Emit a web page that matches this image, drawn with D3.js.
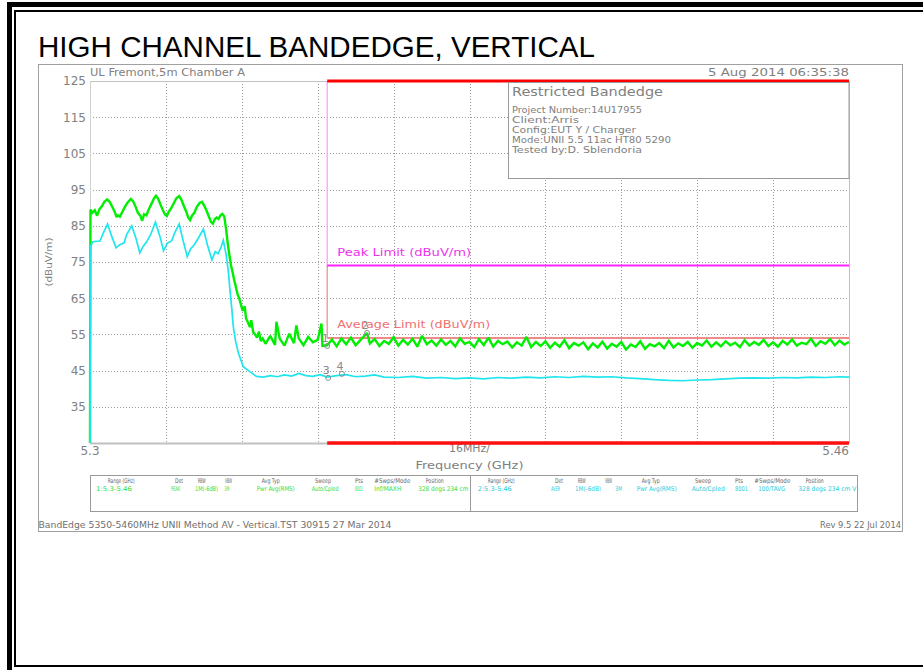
<!DOCTYPE html>
<html>
<head>
<meta charset="utf-8">
<script src="https://cdn.jsdelivr.net/npm/d3@7"></script>
<style>
html,body{margin:0;padding:0;background:#fff;}
svg{display:block;}
</style>
</head>
<body>
<svg id="c" width="923" height="670"></svg>
<script>
// ---------- DATA ----------
const freqDomain = [5.3, 5.46];
const levelDomain = [25, 125];
const yTickValues = [35, 45, 55, 65, 75, 85, 95, 105, 115, 125];
const xGridValues = [5.316, 5.332, 5.348, 5.364, 5.38, 5.396, 5.412, 5.428, 5.444];
const restrictedStart = 5.35;
const peakLimit = 74;
const avgLimit = 54;

// Peak trace (green) [GHz, dBuV/m]
const peakTrace = [
[5.3000,25],[5.3001,89.5],[5.3005,88.6],[5.3010,89.3],[5.3015,87.8],[5.3020,89.6],[5.3025,90.4],[5.3030,91.6],
[5.3036,92.3],[5.3042,91.5],[5.3047,90.2],[5.3052,88.9],[5.3056,87.4],[5.3059,87.9],[5.3063,87.5],[5.3068,88.8],
[5.3073,90.1],[5.3079,91.4],[5.3086,92.4],[5.3091,91.7],[5.3096,90.3],[5.3101,88.6],[5.3106,87.8],[5.3110,86.4],
[5.3114,88.2],[5.3119,87.9],[5.3124,89.6],[5.3130,91.2],[5.3135,92.6],[5.3139,93.3],[5.3144,92.4],[5.3149,90.7],
[5.3154,89.2],[5.3158,88.1],[5.3162,87.7],[5.3166,88.9],[5.3171,89.8],[5.3176,91.1],[5.3182,92.6],[5.3188,93.2],
[5.3193,92.1],[5.3198,90.4],[5.3203,88.9],[5.3207,87.3],[5.3211,86.6],[5.3215,87.8],[5.3220,88.6],[5.3225,90.2],
[5.3231,91.3],[5.3236,91.6],[5.3241,90.5],[5.3246,89.1],[5.3251,87.4],[5.3255,86.1],[5.3259,85.6],[5.3263,86.8],
[5.3267,87.3],[5.3271,86.9],[5.3275,87.9],[5.3279,88.3],
[5.3283,87.6],[5.3287,84.0],[5.3290,80.5],[5.3294,76.8],[5.3297,74.2],[5.3300,72.5],[5.3304,70.0],[5.3307,68.4],
[5.3311,66.1],[5.3315,64.8],[5.3318,63.3],[5.3322,61.5],[5.3326,62.8],[5.3329,59.4],[5.3333,58.3],[5.3337,57.0],
[5.3340,58.9],[5.3344,55.6],[5.3348,55.0],[5.3352,54.1],[5.3356,55.8],[5.3360,53.2],[5.3364,53.9],
[5.337,52.4],[5.338,54.6],[5.339,52.1],[5.3393,58.5],[5.340,53.8],[5.341,51.9],[5.342,55.2],[5.343,52.6],[5.3435,57.5],
[5.344,53.9],[5.345,52.0],[5.346,54.3],[5.347,52.8],[5.348,53.5],[5.3488,58.0],[5.349,51.8],[5.350,52.0],
[5.351,53.6],[5.352,51.7],[5.353,53.9],[5.354,52.3],[5.355,54.1],[5.356,52.0],[5.357,53.4],[5.3584,55.4],
[5.359,52.5],[5.360,53.7],[5.361,51.8],[5.362,53.2],[5.363,52.4],[5.364,54.2],[5.365,51.9],[5.366,53.5],
[5.367,52.2],[5.368,53.8],[5.369,51.6],[5.370,54.6],[5.371,52.3],[5.372,53.3],[5.373,51.9],[5.374,53.6],
[5.375,52.1],[5.376,53.2],[5.377,51.7],[5.378,53.9],[5.379,52.4],[5.380,52.9],[5.381,51.5],[5.382,53.7],
[5.383,52.0],[5.384,54.1],[5.385,51.6],[5.386,53.2],[5.387,52.3],[5.388,53.0],[5.389,51.4],[5.390,52.8],
[5.391,51.9],[5.392,54.3],[5.393,51.5],[5.394,52.9],[5.395,51.8],[5.396,53.1],[5.397,51.3],[5.398,52.7],
[5.399,51.6],[5.400,53.4],[5.401,51.2],[5.402,52.6],[5.403,51.9],[5.404,52.8],[5.405,50.9],[5.406,52.5],
[5.407,51.4],[5.408,53.0],[5.409,51.1],[5.410,52.4],[5.411,51.6],[5.412,52.9],[5.413,50.8],[5.414,52.2],
[5.415,51.5],[5.416,53.1],[5.417,51.0],[5.418,52.3],[5.419,51.7],[5.420,52.6],[5.421,51.2],[5.422,53.2],
[5.423,51.4],[5.424,52.5],[5.425,51.8],[5.426,52.9],[5.427,51.3],[5.428,52.6],[5.429,51.9],[5.430,53.3],
[5.431,51.6],[5.432,52.8],[5.433,51.7],[5.434,53.1],[5.435,52.0],[5.436,52.7],[5.437,51.5],[5.438,53.4],
[5.439,51.9],[5.440,52.9],[5.441,52.1],[5.442,53.5],[5.443,51.8],[5.444,52.8],[5.445,51.6],[5.446,53.2],
[5.447,52.2],[5.448,53.6],[5.449,51.9],[5.450,52.7],[5.451,52.3],[5.452,53.8],[5.453,51.8],[5.454,53.1],
[5.455,52.4],[5.456,53.7],[5.457,52.0],[5.458,53.3],[5.459,52.2],[5.460,52.9]
];

// Average trace (cyan) [GHz, dBuV/m]
const avgTrace = [
[5.3000,25],[5.3001,79.4],[5.3006,80.6],[5.3021,80.8],[5.3028,83.0],[5.3037,85.5],[5.3046,82.0],[5.3055,78.9],
[5.3063,79.8],[5.3072,80.3],[5.3077,82.5],[5.3088,85.0],[5.3097,81.5],[5.3105,77.5],[5.3112,79.3],[5.3119,80.5],
[5.3128,82.6],[5.3138,86.0],[5.3148,81.8],[5.3155,78.1],[5.3163,80.2],[5.3172,80.8],[5.3179,83.2],[5.3188,85.5],
[5.3197,80.5],[5.3205,76.5],[5.3212,78.6],[5.3219,79.6],[5.3228,81.5],[5.3239,84.1],[5.3248,79.5],[5.3257,75.6],
[5.3264,77.9],[5.3270,77.3],[5.3276,79.0],[5.3281,81.0],[5.3287,77.0],[5.3292,72.0],[5.3295,67.3],[5.3299,62.0],
[5.3302,57.2],[5.3307,53.0],[5.3313,49.8],[5.3323,46.1],[5.3337,44.7],[5.3351,43.4],[5.3365,43.2],[5.3380,43.6],
[5.3395,43.3],[5.3410,43.8],[5.3425,43.5],[5.3440,44.2],[5.3455,43.6],[5.3470,43.4],[5.3485,43.9],[5.3500,43.2],
[5.352,43.6],[5.354,43.9],[5.356,43.3],[5.358,43.5],[5.360,43.8],[5.362,43.2],[5.365,43.1],[5.368,43.4],
[5.371,42.9],[5.374,43.1],[5.377,42.8],[5.380,43.0],[5.383,42.7],[5.386,43.1],[5.389,42.9],[5.392,43.2],
[5.395,43.0],[5.398,43.3],[5.401,43.1],[5.404,43.4],[5.407,43.2],[5.410,43.3],[5.413,43.0],[5.416,42.8],
[5.419,42.5],[5.422,42.3],[5.425,42.2],[5.428,42.4],[5.431,42.5],[5.434,42.7],[5.437,42.9],[5.440,43.0],
[5.443,42.9],[5.446,43.1],[5.449,43.0],[5.452,43.2],[5.455,43.1],[5.458,43.3],[5.460,43.2]
];

const markers = [
  {id:"1", f:5.3500, v:51.8},
  {id:"2", f:5.3584, v:55.4},
  {id:"3", f:5.3502, v:43.0},
  {id:"4", f:5.3531, v:44.1}
];

const titleText = "HIGH CHANNEL BANDEDGE, VERTICAL";
const headerLeft = "UL Fremont,5m Chamber A";
const headerRight = "5 Aug 2014    06:35:38";
const infoTitle = "Restricted Bandedge";
const infoLines = ["Project Number:14U17955","Client:Arris","Config:EUT Y / Charger","Mode:UNII 5.5 11ac HT80 5290","Tested by:D. Sblendoria"];
const tableHeaders = ["Range (GHz)","Det","RBW","VBW","Avg Typ","Sweep","Pts","#Swps/Mode","Position"];
const trace1Settings = ["1:5.3-5.46","PEAK","1M(-6dB)","3M","Pwr Avg(RMS)","Auto/Cpled","8001","Inf/MAXH","328 degs 234 cm"];
const trace2Settings = ["2:5.3-5.46","AVER","1M(-6dB)","3M","Pwr Avg(RMS)","Auto/Cpled","8001","100/TAVG","328 degs 234 cm V"];
const footerLeft = "BandEdge 5350-5460MHz UNII Method AV - Vertical.TST 30915 27 Mar 2014";
const footerRight = "Rev 9.5 22 Jul 2014";

// ---------- DRAW ----------
const svg = d3.select("#c");
const FONT = "DejaVu Sans, sans-serif";
const GRAY = "#808080";
const L = 90, R = 849, T = 81, B = 443;
const x = d3.scaleLinear().domain(freqDomain).range([L, R]);
const y = d3.scaleLinear().domain(levelDomain).range([B, T]);

// outer decorative frame
svg.append("rect").attr("x",7).attr("y",2).attr("width",916).attr("height",5).attr("fill","#000");
svg.append("rect").attr("x",7).attr("y",2).attr("width",5).attr("height",668).attr("fill","#000");
svg.append("rect").attr("x",14).attr("y",10).attr("width",909).attr("height",2).attr("fill","#000");
svg.append("rect").attr("x",14).attr("y",10).attr("width",2).attr("height",657).attr("fill","#000");
svg.append("rect").attr("x",14).attr("y",665).attr("width",909).attr("height",2).attr("fill","#000");

// title
svg.append("text").attr("x",38).attr("y",57).attr("font-family","Liberation Sans, Arial, sans-serif")
  .attr("font-size",29).attr("fill","#000").attr("textLength",557).attr("lengthAdjust","spacingAndGlyphs").text(titleText);

// chart frame
svg.append("rect").attr("x",38.5).attr("y",64.5).attr("width",864).attr("height",467).attr("fill","none").attr("stroke","#a0a0a0");

function gtext(px, py, str, opts={}) {
  const t = svg.append("text").attr("x",px).attr("y",py).attr("font-family",FONT)
    .attr("font-size",opts.size||10).attr("fill",opts.fill||GRAY).attr("text-anchor",opts.anchor||"start").text(str);
  if (opts.len) t.attr("textLength",opts.len).attr("lengthAdjust","spacingAndGlyphs");
  return t;
}

gtext(90, 76, headerLeft, {size:11, len:155});
gtext(849, 76, headerRight, {size:11, len:141, anchor:"end"});

// grid
const grid = svg.append("g");
grid.selectAll("line.h").data(yTickValues.filter(v=>v<125)).join("line")
  .attr("x1",L).attr("x2",R).attr("y1",d=>Math.round(y(d))+0.5).attr("y2",d=>Math.round(y(d))+0.5)
  .attr("stroke","#9a9a9a").attr("stroke-dasharray","1,2");
grid.selectAll("line.v").data(xGridValues).join("line")
  .attr("x1",d=>Math.round(x(d))+0.5).attr("x2",d=>Math.round(x(d))+0.5).attr("y1",T).attr("y2",B)
  .attr("stroke","#9a9a9a").attr("stroke-dasharray","1,2");

// plot border (gray)
svg.append("line").attr("x1",L).attr("x2",R).attr("y1",T+0.5).attr("y2",T+0.5).attr("stroke","#c0c0c0");
svg.append("line").attr("x1",L).attr("x2",R).attr("y1",B+0.5).attr("y2",B+0.5).attr("stroke","#c0c0c0").attr("stroke-width",2);
svg.append("line").attr("x1",L+0.5).attr("x2",L+0.5).attr("y1",T).attr("y2",B).attr("stroke","#d0d0d0");
svg.append("line").attr("x1",R+0.5).attr("x2",R+0.5).attr("y1",T).attr("y2",B).attr("stroke","#c0c0c0");

// y axis labels
const yAxis = d3.axisLeft(y).tickValues(yTickValues).tickSize(0).tickPadding(3).tickFormat(d3.format("d"));
const ya = svg.append("g").attr("transform",`translate(${L-1},0)`).call(yAxis);
ya.select(".domain").remove();
ya.selectAll("text").attr("font-family",FONT).attr("font-size",12).attr("fill",GRAY);

// x labels
gtext(x(5.3), 455, "5.3", {size:12, anchor:"middle"});
gtext(x(5.46), 455, "5.46", {size:12, anchor:"end"});
gtext(x(5.38), 452, "16MHz/", {size:10, anchor:"middle", len:41});
gtext(x(5.38), 469, "Frequency (GHz)", {size:11, anchor:"middle", len:108});
svg.append("text").attr("transform","translate(52,262) rotate(-90)").attr("text-anchor","middle")
  .attr("font-family",FONT).attr("font-size",9).attr("fill",GRAY).attr("textLength",49)
  .attr("lengthAdjust","spacingAndGlyphs").text("(dBuV/m)");

// limits
const xr = x(restrictedStart);
svg.append("line").attr("x1",xr).attr("x2",xr).attr("y1",T).attr("y2",y(peakLimit)).attr("stroke","#ff9cff").attr("stroke-width",1.3);
svg.append("line").attr("x1",xr).attr("x2",xr).attr("y1",y(peakLimit)).attr("y2",y(avgLimit)).attr("stroke","#f09090").attr("stroke-width",1.3);
svg.append("line").attr("x1",xr).attr("x2",R).attr("y1",y(peakLimit)).attr("y2",y(peakLimit)).attr("stroke","#ff22ff").attr("stroke-width",2);
svg.append("line").attr("x1",xr).attr("x2",R).attr("y1",y(avgLimit)).attr("y2",y(avgLimit)).attr("stroke","#f08a8a").attr("stroke-width",2);

// traces
const line = d3.line().x(d=>x(d[0])).y(d=>y(d[1]));
svg.append("path").datum(peakTrace).attr("d",line).attr("fill","none").attr("stroke","#00ee00").attr("stroke-width",2.4).attr("stroke-linejoin","miter").attr("stroke-miterlimit",2);
svg.append("path").datum(avgTrace).attr("d",line).attr("fill","none").attr("stroke","#1ee6ee").attr("stroke-width",1.7);

// limit labels
gtext(xr+10, 256, "Peak Limit (dBuV/m)", {size:11, fill:"#ee33ee", len:134});
gtext(xr+10, 328, "Average Limit (dBuV/m)", {size:11, fill:"#f07070", len:153});

// markers
const mk = svg.append("g");
mk.selectAll("circle").data(markers).join("circle")
  .attr("cx",d=>x(d.f)).attr("cy",d=>y(d.v)).attr("r",2.5).attr("fill","none").attr("stroke","#8a8a8a").attr("stroke-width",1);
mk.selectAll("text").data(markers).join("text")
  .attr("x",d=>x(d.f)-2).attr("y",d=>y(d.v)-4).attr("text-anchor","middle")
  .attr("font-family",FONT).attr("font-size",11).attr("fill","#8a8a8a").text(d=>d.id);

// restricted band red lines
svg.append("line").attr("x1",xr).attr("x2",R).attr("y1",T).attr("y2",T).attr("stroke","#ff0000").attr("stroke-width",3);
svg.append("line").attr("x1",xr).attr("x2",R).attr("y1",B).attr("y2",B).attr("stroke","#ff1010").attr("stroke-width",3.5);

// info box
svg.append("rect").attr("x",508.5).attr("y",T+1.5).attr("width",340.5).attr("height",96).attr("fill","#fff").attr("stroke","#9a9a9a");
gtext(512, 96, infoTitle, {size:12.5, len:151});
const infoLens = [130, 67, 124, 159, 130];
infoLines.forEach((s,i)=>gtext(512, 112.7 + i*10, s, {size:9.5, len:infoLens[i]}));

// settings table
svg.append("rect").attr("x",90.5).attr("y",475.5).attr("width",767).attr("height",36).attr("fill","none").attr("stroke","#9a9a9a");
svg.append("line").attr("x1",470.5).attr("x2",470.5).attr("y1",475.5).attr("y2",511.5).attr("stroke","#9a9a9a");
const hdrX1 = [107.7,175,197.7,225,261.7,315,355,374.3,425.7];
const hdrLen = [27,8,8,7,18,16,8,36,18];
const valX1 = [96,171,195,224.3,256.7,311.7,355,374.3,418.3];
const valLen1 = [36,9,23,5,38,27,8,27,50];
const hdrX2 = hdrX1.map(v=>v+380);
const valX2 = [477.7,551,575,615,636.7,691.7,735,758.3,798.3];
const valLen2 = [34,9,26,7,40,33,13,27,58];
tableHeaders.forEach((h,i)=>{
  gtext(hdrX1[i], 483, h, {size:6.5, fill:"#666", len:hdrLen[i]});
  gtext(hdrX2[i], 483, h, {size:6.5, fill:"#666", len:hdrLen[i]});
});
trace1Settings.forEach((s,i)=>gtext(valX1[i], 490.5, s, {size:6.5, fill:"#33dd33", len:valLen1[i]}));
trace2Settings.forEach((s,i)=>gtext(valX2[i], 490.5, s, {size:6.5, fill:"#22ccdd", len:valLen2[i]}));

// footer
gtext(38.5, 528, footerLeft, {size:8.5, fill:"#707070", len:353});
gtext(901, 528, footerRight, {size:8.5, fill:"#707070", len:81, anchor:"end"});
</script>
</body>
</html>
